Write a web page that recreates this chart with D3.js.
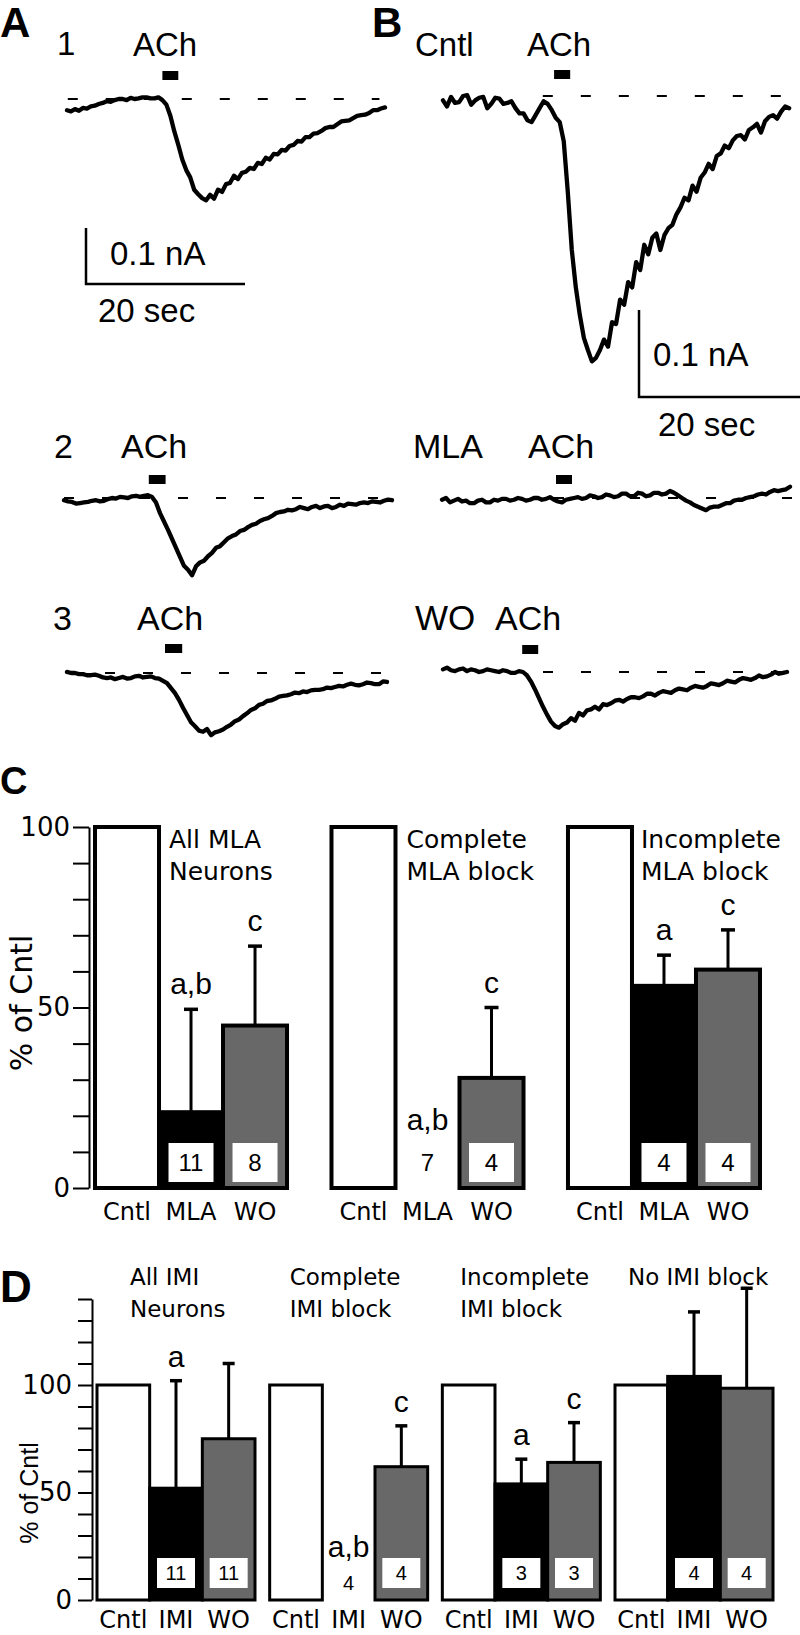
<!DOCTYPE html>
<html><head><meta charset="utf-8">
<script src="https://cdn.jsdelivr.net/npm/d3@7"></script>
<style>body{margin:0;background:#fff} svg{display:block}</style>
</head><body>
<svg id="fig" width="800" height="1635"></svg>
<script>
// ===== Trace data: membrane current (pA), one sample every 0.5 s =====
const traceDt = 0.5;
const traceA1 = [-20,-22,-18,-21,-16,-17,-13,-12,-9,-7,-4,-5,-2,0,0,-2,2,0,1,3,3,1,1,3,-2,-10,-30,-58,-82,-108,-127,-140,-162,-170,-177,-181,-171,-178,-162,-166,-152,-150,-137,-143,-132,-130,-123,-125,-114,-116,-105,-108,-98,-99,-91,-92,-84,-82,-75,-76,-68,-68,-62,-61,-57,-52,-50,-50,-45,-40,-39,-38,-34,-30,-29,-28,-25,-20,-20,-17,-15];
const traceBcntl = [-5,-12,-1,-8,-7,0,1,-10,-5,-2,-1,-14,-9,-2,-3,-9,-8,-6,-14,-20,-20,-28,-30,-22,-14,-6,-9,-16,-25,-30,-52,-110,-177,-220,-252,-278,-292,-305,-301,-292,-280,-288,-260,-262,-234,-240,-214,-220,-191,-200,-171,-182,-163,-158,-177,-160,-152,-148,-136,-128,-117,-120,-103,-110,-94,-88,-78,-84,-69,-66,-57,-60,-51,-46,-45,-50,-39,-36,-32,-42,-29,-24,-22,-26,-18,-12,-14];
const traceA2 = [-4,-6,-7,-10,-9,-8,-7,-5,-4,-6,-5,-2,0,-1,2,1,0,3,4,2,4,5,2,-8,-27,-42,-57,-73,-89,-105,-121,-128,-138,-122,-115,-112,-104,-98,-89,-86,-79,-72,-68,-65,-59,-57,-52,-48,-46,-41,-38,-36,-32,-27,-25,-24,-21,-22,-20,-16,-18,-20,-16,-14,-18,-15,-14,-18,-16,-12,-14,-10,-11,-12,-9,-8,-9,-6,-7,-8,-5,-3,-4];
const traceMLA = [-2,0,-5,-3,-1,-4,-3,-6,-6,-3,-2,-5,-5,-2,-3,-1,-1,-3,-2,0,-1,-3,-2,0,0,-2,-1,1,-2,-4,-5,-2,-1,0,1,-1,0,3,2,0,1,4,3,1,2,5,5,2,2,6,5,2,3,6,6,4,5,8,6,3,0,-3,-5,-8,-10,-12,-14,-11,-10,-10,-8,-6,-6,-3,-2,-2,0,1,2,4,5,4,7,9,8,9,10,13];
const traceA3 = [2,0,0,-2,-2,-4,-4,-3,-5,-8,-9,-8,-11,-9,-7,-10,-9,-6,-5,-8,-7,-6,-9,-10,-14,-18,-27,-36,-48,-62,-75,-88,-95,-103,-105,-100,-111,-106,-104,-101,-96,-92,-86,-83,-77,-72,-66,-63,-57,-55,-50,-49,-46,-42,-41,-40,-38,-35,-36,-33,-34,-31,-30,-30,-29,-26,-27,-25,-23,-24,-21,-19,-21,-22,-20,-17,-18,-20,-20,-15,-16];
const traceWO = [3,5,2,1,3,4,1,3,2,0,1,3,2,1,0,2,1,-1,-1,1,0,-4,-11,-20,-30,-40,-49,-57,-62,-64,-60,-58,-53,-56,-47,-50,-44,-43,-40,-43,-37,-38,-36,-33,-32,-34,-31,-29,-29,-30,-28,-25,-25,-27,-24,-22,-23,-24,-21,-19,-20,-21,-18,-16,-17,-18,-16,-13,-14,-15,-13,-10,-11,-12,-9,-7,-8,-9,-7,-4,-6,-5,-3,0,-2,-1,0];
// ACh application windows (s)
const achA1 = [12, 14], achB = [13.8, 15.8], achA2 = [10.6, 12.7], achMLA = [14.25, 16.25], achA3 = [12.25, 14.4], achWO = [9.9, 11.9];
// scale bar values
const scaleCurrent = 100; // pA (0.1 nA)
const scaleTime = 20;     // s

// ===== Bar data: panel C (MLA) =====
const groupsC = [["All MLA", "Neurons"], ["Complete", "MLA block"], ["Incomplete", "MLA block"]];
const condsC = ["Cntl", "MLA", "WO"];
const meansC = [[100, 21, 45], [100, 0, 30.5], [100, 56, 60.5]];
const errTopC = [[null, 49.5, 67], [null, null, 50], [null, 64.5, 71.5]];
const lettersC = [["", "a,b", "c"], ["", "a,b", "c"], ["", "a", "c"]];
const nC = [[null, 11, 8], [null, 7, 4], [null, 4, 4]];
const ticksC = [0,10,20,30,40,50,60,70,80,90,100];
const tickLabelsC = [0, 50, 100];

// ===== Bar data: panel D (IMI) =====
const groupsD = [["All IMI", "Neurons"], ["Complete", "IMI block"], ["Incomplete", "IMI block"], ["No IMI block"]];
const condsD = ["Cntl", "IMI", "WO"];
const meansD = [[100, 52, 75], [100, 0, 62], [100, 54, 64], [100, 104, 98.5]];
const errTopD = [[null, 102, 110], [null, null, 81], [null, 65.5, 82.5], [null, 134, 145]];
const lettersD = [["", "a", ""], ["", "a,b", "c"], ["", "a", "c"], ["", "", ""]];
const nD = [[null, 11, 11], [null, 4, 4], [null, 3, 3], [null, 4, 4]];
const ticksD = [0,10,20,30,40,50,60,70,80,90,100,110,120,130,140];
const tickLabelsD = [0, 50, 100];

const fills = ["#ffffff", "#000000", "#686868"];

// ===================================================================
const svg = d3.select("#fig");
const FH = "'Liberation Sans', Arial, Helvetica, sans-serif";
const FV = "'DejaVu Sans', Verdana, sans-serif";

function txt(s, x, y, size, opts = {}) {
  return svg.append("text").attr("x", x).attr("y", y)
    .attr("font-family", opts.family || FH).attr("font-size", size)
    .attr("font-weight", opts.weight || "normal")
    .attr("text-anchor", opts.anchor || "start").attr("fill", "#000").text(s);
}

// panel letters
txt("A", 0, 37, 42, {weight: "bold"});
txt("B", 372, 37, 42, {weight: "bold"});
txt("C", 0, 794, 38, {weight: "bold"});
txt("D", 0, 1302, 44, {weight: "bold"});

// ---- traces ----
const traceLayout = [
  {data: traceA1, ach: achA1, x0: 67, pxs: 7.95, y0: 99, pxpa: 0.56, achY: 71, dash: [0.1, 39.3],
   labels: [["1", 57, 55, 33], ["ACh", 133, 56, 33]], scalebar: {x: 86, y: 284, t1: [110, 265], t2: [98, 322]}},
  {data: traceBcntl, ach: achB, x0: 443, pxs: 8.05, y0: 96, pxpa: 0.87, achY: 70, dash: [12.4, 42.7],
   labels: [["Cntl", 415, 56, 33], ["ACh", 527, 56, 33]], scalebar: {x: 639, y: 397, t1: [653, 366], t2: [658, 436]}},
  {data: traceA2, ach: achA2, x0: 64, pxs: 8, y0: 498, pxpa: 0.56, achY: 475, dash: [0, 40.75],
   labels: [["2", 54, 458, 34], ["ACh", 121, 458, 34]]},
  {data: traceMLA, ach: achMLA, x0: 442, pxs: 8, y0: 498, pxpa: 0.87, achY: 475, dash: [14, 43.9],
   labels: [["MLA", 413, 458, 34], ["ACh", 528, 458, 34]]},
  {data: traceA3, ach: achA3, x0: 67, pxs: 8, y0: 673, pxpa: 0.56, achY: 644, dash: [0, 40.1],
   labels: [["3", 53, 630, 34], ["ACh", 137, 630, 34]]},
  {data: traceWO, ach: achWO, x0: 443, pxs: 8, y0: 672, pxpa: 0.87, achY: 645, dash: [12.5, 43.4],
   labels: [["WO", 415, 630, 35], ["ACh", 495, 630, 34]]}
];

traceLayout.forEach(L => {
  const x = d3.scaleLinear().domain([0, 1]).range([L.x0, L.x0 + L.pxs]);
  const y = d3.scaleLinear().domain([0, -100]).range([L.y0, L.y0 + 100 * L.pxpa]);
  svg.append("line")
    .attr("x1", x(L.dash[0])).attr("x2", x(L.dash[1]))
    .attr("y1", y(0)).attr("y2", y(0))
    .attr("stroke", "#000").attr("stroke-width", 2.2).attr("stroke-dasharray", "10,28");
  svg.append("path").datum(L.data)
    .attr("d", d3.line().x((d, i) => x(i * traceDt)).y(d => y(d)))
    .attr("fill", "none").attr("stroke", "#000").attr("stroke-width", 4.3)
    .attr("stroke-linejoin", "round").attr("stroke-linecap", "round");
  svg.append("rect")
    .attr("x", x(L.ach[0])).attr("width", x(L.ach[1]) - x(L.ach[0]))
    .attr("y", L.achY).attr("height", 9).attr("fill", "#000");
  L.labels.forEach(l => txt(l[0], l[1], l[2], l[3]));
  if (L.scalebar) {
    const sb = L.scalebar;
    const w = x(scaleTime) - x(0);
    const h = y(-scaleCurrent) - y(0);
    svg.append("path")
      .attr("d", `M${sb.x},${sb.y - h}V${sb.y}H${sb.x + w}`)
      .attr("fill", "none").attr("stroke", "#000").attr("stroke-width", 2.5);
    txt("0.1 nA", sb.t1[0], sb.t1[1], 33);
    txt("20 sec", sb.t2[0], sb.t2[1], 33);
  }
});

// ---- bar panels ----
function barPanel(P) {
  const y = d3.scaleLinear().domain(P.domain).range(P.yRange);
  const g = d3.scaleBand().domain(d3.range(P.groups.length)).range(P.xRange).paddingInner(P.padInner);
  const c = d3.scaleBand().domain(P.conds).range([0, g.bandwidth()]);
  const ax = svg.append("g").attr("transform", `translate(${P.axisX},0)`)
    .call(d3.axisLeft(y).tickValues(P.ticks).tickSize(P.tickLen).tickSizeOuter(0).tickPadding(P.tickPad)
      .tickFormat(d => P.tickLabels.includes(d) ? d : ""));
  ax.select(".domain").attr("stroke-width", 2);
  ax.selectAll(".tick line").attr("stroke-width", 2);
  ax.selectAll(".tick text").attr("font-family", FV).attr("font-size", P.tickFont).attr("fill", "#000");
  svg.append("text").attr("transform", `translate(${P.yTitle[0]},${P.yTitle[1]}) rotate(-90)`)
    .attr("text-anchor", "middle").attr("font-family", P.yTitle[3]).attr("font-size", P.yTitle[2]).text("% of Cntl");

  P.groups.forEach((grp, gi) => {
    const gx = g(gi);
    P.conds.forEach((cond, ci) => {
      const v = P.means[gi][ci];
      const bx = gx + c(cond);
      if (v > 0) {
        svg.append("rect").attr("x", bx).attr("y", y(v)).attr("width", c.bandwidth()).attr("height", y(0) - y(v))
          .attr("fill", fills[ci]).attr("stroke", "#000").attr("stroke-width", P.barStroke);
      }
      const cx = bx + c.bandwidth() / 2;
      const et = P.err[gi][ci];
      if (et != null) {
        svg.append("line").attr("x1", cx).attr("x2", cx).attr("y1", y(v)).attr("y2", y(et))
          .attr("stroke", "#000").attr("stroke-width", 3);
        svg.append("line").attr("x1", cx - P.capW).attr("x2", cx + P.capW).attr("y1", y(et)).attr("y2", y(et))
          .attr("stroke", "#000").attr("stroke-width", 3.5);
      }
      const letter = P.letters[gi][ci];
      const n = P.n[gi][ci];
      if (v > 0) {
        if (letter) txt(letter, cx, y(et) - P.letterGap, P.letterFont, {anchor: "middle"});
        if (n != null) {
          svg.append("rect").attr("x", cx - P.boxW / 2).attr("y", y(0) - P.boxBottom - P.boxH)
            .attr("width", P.boxW).attr("height", P.boxH).attr("fill", "#fff");
          txt(n, cx, y(0) - P.boxBottom - P.boxH / 2 + P.nFont * 0.36, P.nFont, {anchor: "middle"});
        }
      } else {
        if (letter) txt(letter, cx, y(0) - P.zeroLetter, P.letterFont, {anchor: "middle"});
        if (n != null) txt(n, cx, y(0) - P.zeroN, P.nFont, {anchor: "middle"});
      }
      txt(cond, cx, P.condY, P.condFont, {anchor: "middle", family: FV});
    });
    grp.forEach((line, li) => txt(line, gx + P.titleDx[gi], P.titleY + li * P.titleLH, P.titleFont, {family: FV}));
  });
}

barPanel({
  groups: groupsC, conds: condsC, means: meansC, err: errTopC, letters: lettersC, n: nC,
  domain: [0, 100], yRange: [1188, 827], xRange: [95, 760], padInner: 0.188,
  ticks: ticksC, tickLabels: tickLabelsC, axisX: 89, tickLen: 16, tickPad: 3, tickFont: 26,
  yTitle: [32, 1003, 30, FV], barStroke: 4, capW: 7, letterGap: 15, letterFont: 30,
  boxW: 45, boxH: 39, boxBottom: 6, nFont: 24, zeroLetter: 58, zeroN: 17,
  condY: 1220, condFont: 24, titleDx: [74, 75, 73], titleY: 848, titleLH: 32, titleFont: 25
});

barPanel({
  groups: groupsD, conds: condsD, means: meansD, err: errTopD, letters: lettersD, n: nD,
  domain: [0, 140], yRange: [1600, 1299], xRange: [97, 773], padInner: 0.085,
  ticks: ticksD, tickLabels: tickLabelsD, axisX: 92, tickLen: 14, tickPad: 6, tickFont: 26,
  yTitle: [38, 1493, 25, FH], barStroke: 3, capW: 6, letterGap: 14, letterFont: 30,
  boxW: 38, boxH: 30, boxBottom: 12, nFont: 20, zeroLetter: 43, zeroN: 10,
  condY: 1628, condFont: 24, titleDx: [33, 20, 18, 13], titleY: 1285, titleLH: 32, titleFont: 23
});
</script>
</body></html>
